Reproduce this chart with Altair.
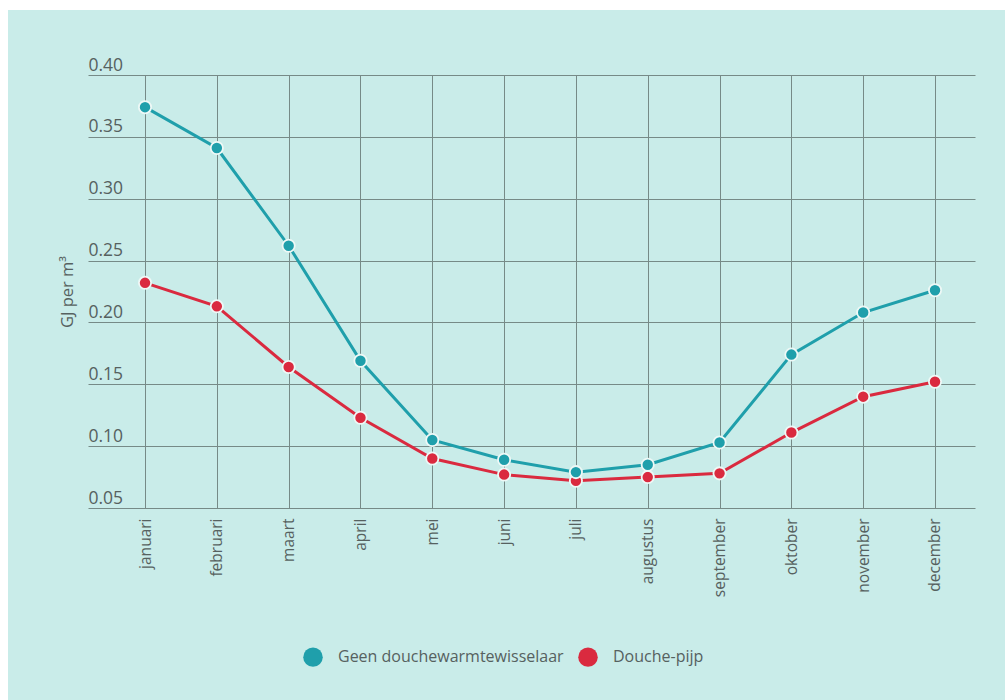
import altair as alt
import pandas as pd

# Maandelijks energieverbruik (GJ per m³ douchewater)
maanden = ["januari", "februari", "maart", "april", "mei", "juni", "juli",
           "augustus", "september", "oktober", "november", "december"]
geen_wtw = [0.374, 0.341, 0.262, 0.169, 0.105, 0.089, 0.079, 0.085, 0.103, 0.174, 0.208, 0.226]
douche_pijp = [0.232, 0.213, 0.164, 0.123, 0.090, 0.077, 0.072, 0.075, 0.078, 0.111, 0.140, 0.152]
series = ["Geen douchewarmtewisselaar", "Douche-pijp"]
kleuren = ["#1f9fab", "#da2a3f"]
y_ticks = [0.05, 0.10, 0.15, 0.20, 0.25, 0.30, 0.35, 0.40]

rows = []
for naam, waarden in zip(series, [geen_wtw, douche_pijp]):
    for i, (m, v) in enumerate(zip(maanden, waarden)):
        rows.append({"idx": i, "maand": m, "serie": naam, "waarde": v})
df = pd.DataFrame(rows)

W, H = 887, 433
FONT = "Open Sans"
GREY = "#56615f"
BG = "#c9ece9"

label_expr = "[" + ",".join(f"'{m}'" for m in maanden) + "][datum.value]"

x = alt.X(
    "idx:Q",
    scale=alt.Scale(domain=[-0.794, 11.557], nice=False, zero=False),
    axis=alt.Axis(
        values=list(range(12)), labelExpr=label_expr, labelAngle=-90,
        labelAlign="right", labelBaseline="middle", labelPadding=10,
        labelFontSize=15.5, labelColor=GREY, labelFont=FONT,
        ticks=False, domain=False, grid=True, title=None,
    ),
)
y = alt.Y(
    "waarde:Q",
    scale=alt.Scale(domain=[0.05, 0.40], nice=False, zero=False),
    axis=alt.Axis(
        values=y_ticks, format=".2f", labelAlign="left", labelBaseline="bottom",
        labelPadding=0, labelOffset=-1, labelFontSize=17.5, labelColor=GREY,
        labelFont=FONT, ticks=False, domain=False, grid=True,
        title="GJ per m³", titleFont=FONT, titleFontSize=16.5,
        titleFontWeight="normal", titleColor=GREY, titleAngle=-90,
        titleX=-16, titleY=H / 2, titleAlign="center", titleBaseline="alphabetic",
    ),
)
kleur_schaal = alt.Scale(domain=series, range=kleuren)

lijnen = alt.Chart(df).mark_line(strokeWidth=3).encode(
    x=x, y=y,
    color=alt.Color("serie:N", scale=kleur_schaal, sort=series, legend=None),
    detail="serie:N",
)

punten = alt.Chart(df).mark_point(
    filled=True, size=150, opacity=1, stroke="#eef8f6", strokeWidth=1.8
).encode(
    x=x, y=y,
    color=alt.Color(
        "serie:N", scale=kleur_schaal, sort=series,
        legend=alt.Legend(
            title=None, orient="none", direction="horizontal",
            legendX=215, legendY=572, padding=0,
            symbolType="circle", symbolSize=380, symbolStrokeWidth=0,
            symbolOpacity=1, labelFont=FONT, labelFontSize=16,
            labelColor=GREY, labelOffset=15, columnPadding=14, labelLimit=500,
        ),
    ),
    order=alt.Order("serie:N"),
)

# witte randen boven en links
rand_boven = alt.Chart(pd.DataFrame({"a": [0]})).mark_rect(color="white").encode(
    x=alt.value(-88), x2=alt.value(W + 30), y=alt.value(-75), y2=alt.value(-65)
)
rand_links = alt.Chart(pd.DataFrame({"a": [0]})).mark_rect(color="white").encode(
    x=alt.value(-88), x2=alt.value(-80), y=alt.value(-75), y2=alt.value(H + 192)
)

chart = alt.layer(rand_boven, rand_links, lijnen, punten).resolve_legend(
    color="independent"
).properties(
    width=W, height=H,
    autosize=alt.AutoSizeParams(type="none"),
    padding={"left": 88, "top": 75, "right": 30, "bottom": 192},
    background=BG,
).configure_view(stroke=None).configure_axis(
    gridColor="#768a87", gridOpacity=1, gridWidth=1
)

chart.save("out.html", embed_options={"renderer": "svg", "actions": False})
